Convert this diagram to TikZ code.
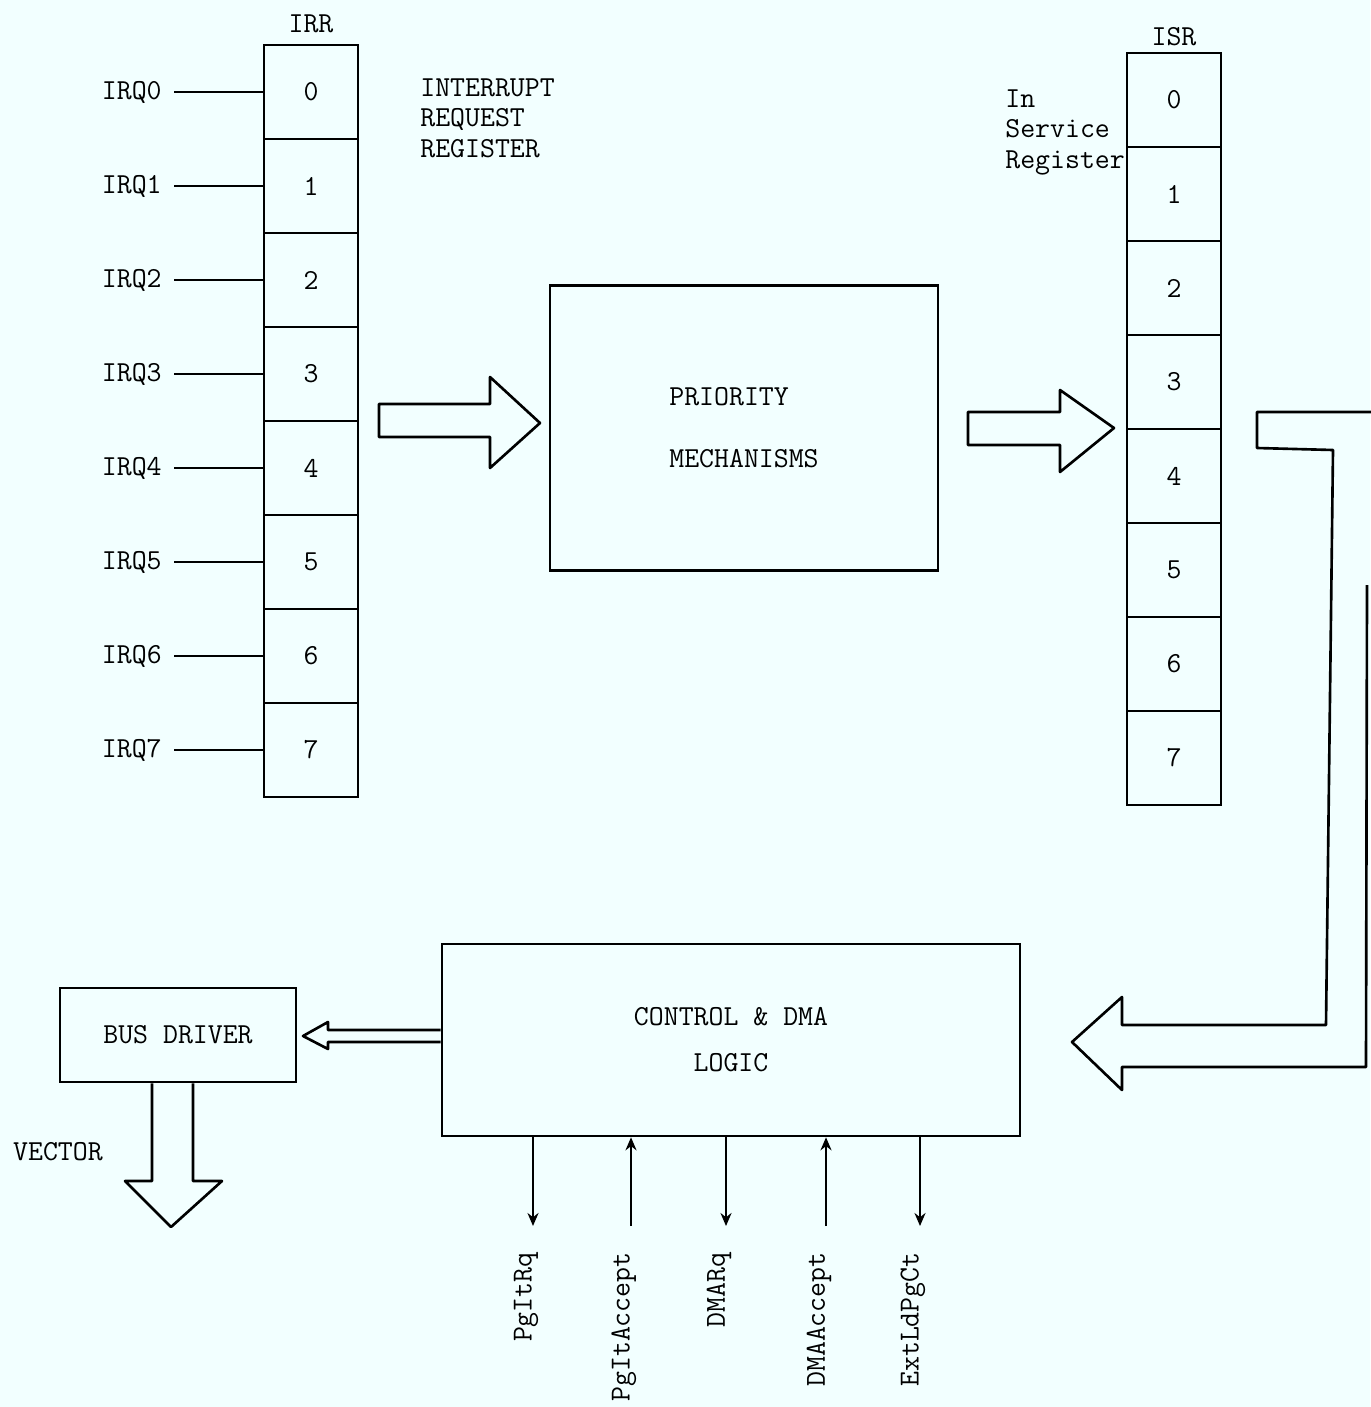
\documentclass[tikz,border=0pt]{standalone}
\usepackage{tikz}
\usetikzlibrary{arrows.meta, positioning}
\definecolor{paper}{RGB}{242,255,255}

\begin{document}
\begin{tikzpicture}[
  x=0.02cm, y=-0.02cm,
  every node/.style={font=\fontsize{16.5}{17.6}\selectfont\ttfamily},
  cell/.style={draw, line width=1.5pt, minimum width=1.88cm, minimum height=1.88cm, inner sep=0pt},
  box/.style={draw, line width=1.5pt, align=center, inner sep=0pt},
  wire/.style={line width=1.5pt},
  fat/.style={draw, line width=1.5pt, line join=round},
  sigline/.style={line width=1.5pt, -{Stealth[length=2.6mm,width=2.2mm]}}
]
\fill[paper] (0,0) rectangle (1370,1407);
\useasboundingbox (0,0) rectangle (1370,1407);

% registers
\foreach \i in {0,...,7} {
  \node[cell] (irr\i) at (311, 92+94*\i) {\i};
  \node[cell] (isr\i) at (1174, 100+94*\i) {\i};
  \node[anchor=east, inner xsep=0.24cm] (irq\i) at (174, 92+94*\i) {IRQ\i};
  \draw[wire] (irq\i.east) -- (irr\i.west);
}
\node[above=0.1cm of irr0] (irrtitle) {IRR};
\node[above=0cm of isr0] (isrtitle) {ISR};
\node[anchor=north west, align=left, inner sep=0pt] (irrname) at (420,78) {INTERRUPT\\REQUEST\\REGISTER};
\node[anchor=north west, align=left, inner sep=0pt] (isrname) at (1005,89) {In\\Service\\Register};

% blocks
\node[box, minimum width=7.76cm, minimum height=5.7cm, align=left] (prio) at (744,428) {PRIORITY\\[0.62cm]MECHANISMS};
\node[box, minimum width=11.56cm, minimum height=3.84cm] (ctrl) at (731,1040) {CONTROL \& DMA\\[0.3cm]LOGIC};
\node[box, minimum width=4.72cm, minimum height=1.88cm] (bus) at (178,1035) {BUS DRIVER};
\node (vec) at (58,1152) {VECTOR};

% wide arrows
\draw[fat] (379,404) -- (490,404) -- (490,377) -- (540,423) -- (490,468) -- (490,437) -- (379,437) -- cycle;
\draw[fat] (968,412) -- (1060,412) -- (1060,390) -- (1114,428) -- (1060,472) -- (1060,445) -- (968,445) -- cycle;
\draw[fat] (1375,412) -- (1257,412) -- (1257,448) -- (1333,450) -- (1326,1025) -- (1122,1025) -- (1122,997)
  -- (1072,1042) -- (1122,1090) -- (1122,1067) -- (1366,1067) -- (1367,585);
\draw[fat] (ctrl.west |- 0,1030) -- (328,1030) -- (328,1022) -- (303,1036) -- (328,1049) -- (328,1042) -- (ctrl.west |- 0,1042);
\draw[fat] (bus.south -| 152,0) -- (152,1181) -- (125,1181) -- (171,1227) -- (222,1181) -- (193,1181) -- (bus.south -| 193,0);

% control lines
\foreach \x/\signame/\up [count=\i] in {533/PgItRq/0, 631/PgItAccept/1, 726/DMARq/0, 826/DMAAccept/1, 920/ExtLdPgCt/0} {
  \coordinate (end\i) at (\x,1226);
  \ifnum\up=1
    \draw[sigline] (end\i) -- (ctrl.south -| end\i);
  \else
    \draw[sigline] (ctrl.south -| end\i) -- (end\i);
  \fi
  \node[rotate=90, anchor=east, inner sep=0pt] (sig\i) at (\x-7,1252) {\signame};
}
\end{tikzpicture}
\end{document}
